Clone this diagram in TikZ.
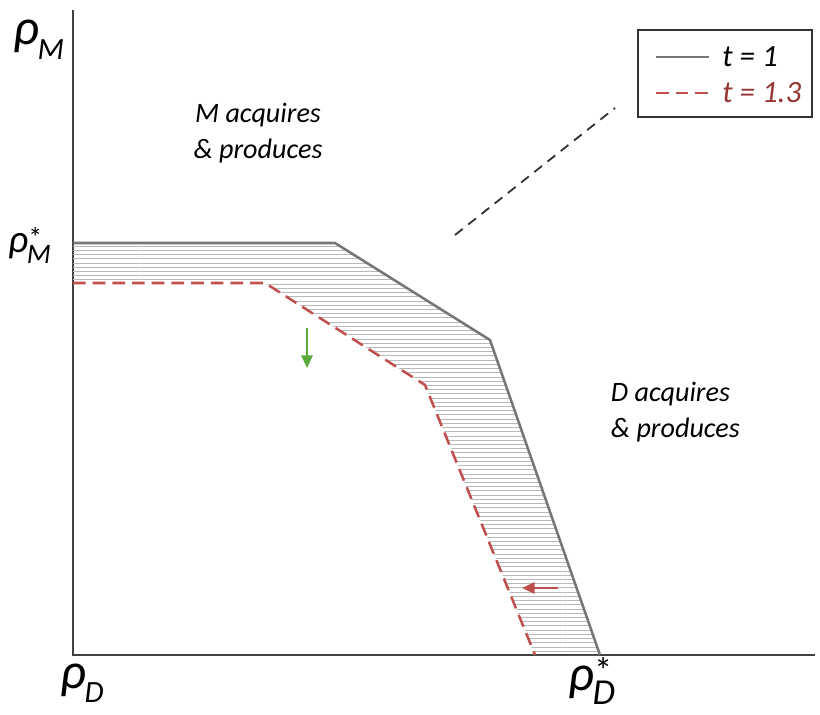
\documentclass[tikz,border=0pt]{standalone}
\usepackage{fontspec}
\setmainfont{Carlito}
\usetikzlibrary{calc,patterns,arrows.meta}
\definecolor{tone_line}{RGB}{118,118,118}
\definecolor{ttwo_line}{RGB}{192,80,77}
\definecolor{ttwo_text}{RGB}{149,55,53}
\definecolor{shift_green}{RGB}{90,170,60}
% rho with subscript and superscript
\newcommand{\rholab}[4]{{\fontsize{#3}{#3}\selectfont\itshape ρ\kern-1pt\makebox[0pt][l]{\raisebox{0.12em}{\fontsize{#4}{#4}\selectfont\upshape\kern1pt #2}}\raisebox{-0.28em}{\fontsize{#4}{#4}\selectfont #1}}}
\begin{document}
\begin{tikzpicture}[x=0.025cm,y=-0.025cm,
    axisline/.style={draw=black!75,line width=1.1pt},
    tone/.style={draw=tone_line,line width=1.8pt},
    ttwo/.style={draw=ttwo_line,line width=1.8pt,dash pattern=on 9pt off 5pt},
    regiontext/.style={font=\fontsize{20}{26}\selectfont\itshape,align=left},
    keytext/.style={font=\fontsize{22}{24}\selectfont\itshape,anchor=west,inner sep=0pt}]
    \useasboundingbox (0,0) rectangle (820,715);
    % axes
    \coordinate (origin) at (73,655);
    \coordinate (ytop) at (73,10);
    \coordinate (xend) at (815,655);
    \draw[axisline] (ytop) -- (origin) -- (xend);
    \node[anchor=base west,inner sep=0pt] (rhoM) at (13,45) {\rholab{M}{}{36}{22}};
    \node[anchor=base west,inner sep=0pt] (rhoMstar) at (8,252) {\rholab{M}{*}{28}{20}};
    \node[anchor=base west,inner sep=0pt] (rhoD) at (60,688) {\rholab{D}{}{36}{22}};
    \node[anchor=base west,inner sep=0pt] (rhoDstar) at (568,690) {\rholab{D}{*}{36}{26}};
    % kinks of the two borders
    \coordinate (a1) at (73,243);
    \coordinate (a2) at (335,243);
    \coordinate (a3) at (490,340);
    \coordinate (a4) at (600,655);
    \coordinate (b1) at (73,283);
    \coordinate (b2) at (265,283);
    \coordinate (b3) at (425,385);
    \coordinate (b4) at (535,655);
    \fill[pattern=horizontal lines,pattern color=gray!55] (a1) -- (a2) -- (a3) -- (a4) -- (b4) -- (b3) -- (b2) -- (b1) -- cycle;
    \draw[tone] (a1) -- (a2) -- (a3) -- (a4);
    \draw[ttwo] (b1) -- (b2) -- (b3) -- (b4);
    % diagonal
    \coordinate (d1) at (455,235);
    \coordinate (d2) at (615,108);
    \draw[black!80,line width=1.3pt,dash pattern=on 7pt off 5pt] (d1) -- (d2);
    % shifts
    \coordinate (g1) at (307,328);
    \coordinate (g2) at (307,368);
    \draw[shift_green,line width=1.6pt,-{Triangle[length=9pt,width=8pt]}] (g1) -- (g2);
    \coordinate (r1) at (558,588);
    \coordinate (r2) at (522,588);
    \draw[ttwo_line,line width=1.6pt,-{Triangle[length=9pt,width=8pt]}] (r1) -- (r2);
    % regions
    \node[regiontext,align=center] (Mregion) at (258,133) {M acquires\\\& produces};
    \node[regiontext,anchor=west] (Dregion) at (606,412) {D acquires\\\& produces};
    % legend
    \node[draw=black!80,line width=1.3pt,minimum width=174*0.025cm,minimum height=87*0.025cm] (legend) at (725,73.5) {};
    \node[keytext] (keyone) at (722,57) {t = 1};
    \node[keytext,text=ttwo_text] (keytwo) at (722,93) {t = 1.3};
    \draw[tone] ($(keyone.west)+(-66,0)$) -- ($(keyone.west)+(-13,0)$);
    \draw[ttwo] ($(keytwo.west)+(-66,0)$) -- ($(keytwo.west)+(-13,0)$);
\end{tikzpicture}
\end{document}
